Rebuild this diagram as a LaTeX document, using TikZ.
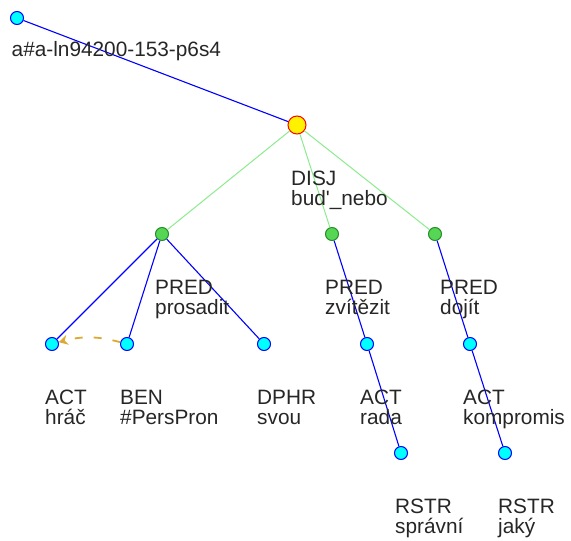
\documentclass[tikz,border=0pt]{standalone}
\usepackage{fontspec}
\setmainfont{Liberation Sans}
\usetikzlibrary{arrows.meta,calc}

\definecolor{nodecyan}{RGB}{0,255,255}
\definecolor{nodegreen}{RGB}{85,215,85}
\definecolor{darkgreen}{RGB}{40,140,40}
\definecolor{edgegreen}{RGB}{140,235,140}
\definecolor{corefcol}{RGB}{220,170,50}

\begin{document}
\begin{tikzpicture}[x=1pt,y=-1pt,
    tnode/.style={circle,draw=blue,fill=nodecyan,line width=1pt,minimum size=13pt,inner sep=0pt},
    pnode/.style={circle,draw=darkgreen,fill=nodegreen,line width=1pt,minimum size=13pt,inner sep=0pt},
    cnode/.style={circle,draw=red,fill=yellow,line width=1pt,minimum size=18pt,inner sep=0pt},
    lbl/.style={anchor=north west,inner sep=0pt,align=left,text=black!85,
      font=\fontsize{20.8}{20}\selectfont},
    tedge/.style={draw=blue,line width=1.1pt},
    cedge/.style={draw=edgegreen,line width=1pt}]
  \useasboundingbox (0,0) rectangle (571,541);

  % nodes
  \node[tnode] (root) at (17,18) {};
  \node[cnode] (disj) at (297,125) {};
  \node[pnode] (pred1) at (162,234) {};
  \node[pnode] (pred2) at (332,234) {};
  \node[pnode] (pred3) at (435,234) {};
  \node[tnode] (act1) at (52,344) {};
  \node[tnode] (ben) at (127,344) {};
  \node[tnode] (dphr) at (264,344) {};
  \node[tnode] (act2) at (367,344) {};
  \node[tnode] (act3) at (470,344) {};
  \node[tnode] (rstr1) at (401,453) {};
  \node[tnode] (rstr2) at (505,453) {};

  % edges
  \draw[tedge] (root) -- (disj);
  \draw[cedge] (disj) -- (pred1);
  \draw[cedge] (disj) -- (pred2);
  \draw[cedge] (disj) -- (pred3);
  \draw[tedge] (pred1) -- (act1);
  \draw[tedge] (pred1) -- (ben);
  \draw[tedge] (pred1) -- (dphr);
  \draw[tedge] (pred2) -- (act2);
  \draw[tedge] (act2) -- (rstr1);
  \draw[tedge] (pred3) -- (act3);
  \draw[tedge] (act3) -- (rstr2);
  \draw[corefcol,line width=1.8pt,dash pattern=on 8pt off 11pt,
    -{Stealth[length=9pt,width=10pt]}] (ben) to[bend right=15] (act1);

  % labels
  \node[lbl] (lroot) at ($(root)+(-5.5,23)$) {a\#a-ln94200-153-p6s4};
  \node[lbl] (ldisj) at ($(disj)+(-6,45.5)$) {DISJ\\bud\textquotesingle\_nebo};
  \node[lbl] (lpred1) at ($(pred1)+(-7,45.5)$) {PRED\\prosadit};
  \node[lbl] (lpred2) at ($(pred2)+(-7,45.5)$) {PRED\\zvítězit};
  \node[lbl] (lpred3) at ($(pred3)+(5,45.5)$) {PRED\\dojít};
  \node[lbl] (lact1) at ($(act1)+(-7,45.5)$) {ACT\\hráč};
  \node[lbl] (lben) at ($(ben)+(-7,45.5)$) {BEN\\\#PersPron};
  \node[lbl] (ldphr) at ($(dphr)+(-7,45.5)$) {DPHR\\svou};
  \node[lbl] (lact2) at ($(act2)+(-7,45.5)$) {ACT\\rada};
  \node[lbl] (lact3) at ($(act3)+(-7,45.5)$) {ACT\\kompromis};
  \node[lbl] (lrstr1) at ($(rstr1)+(-6,45.5)$) {RSTR\\správní};
  \node[lbl] (lrstr2) at ($(rstr2)+(-7,45.5)$) {RSTR\\jaký};
\end{tikzpicture}
\end{document}
